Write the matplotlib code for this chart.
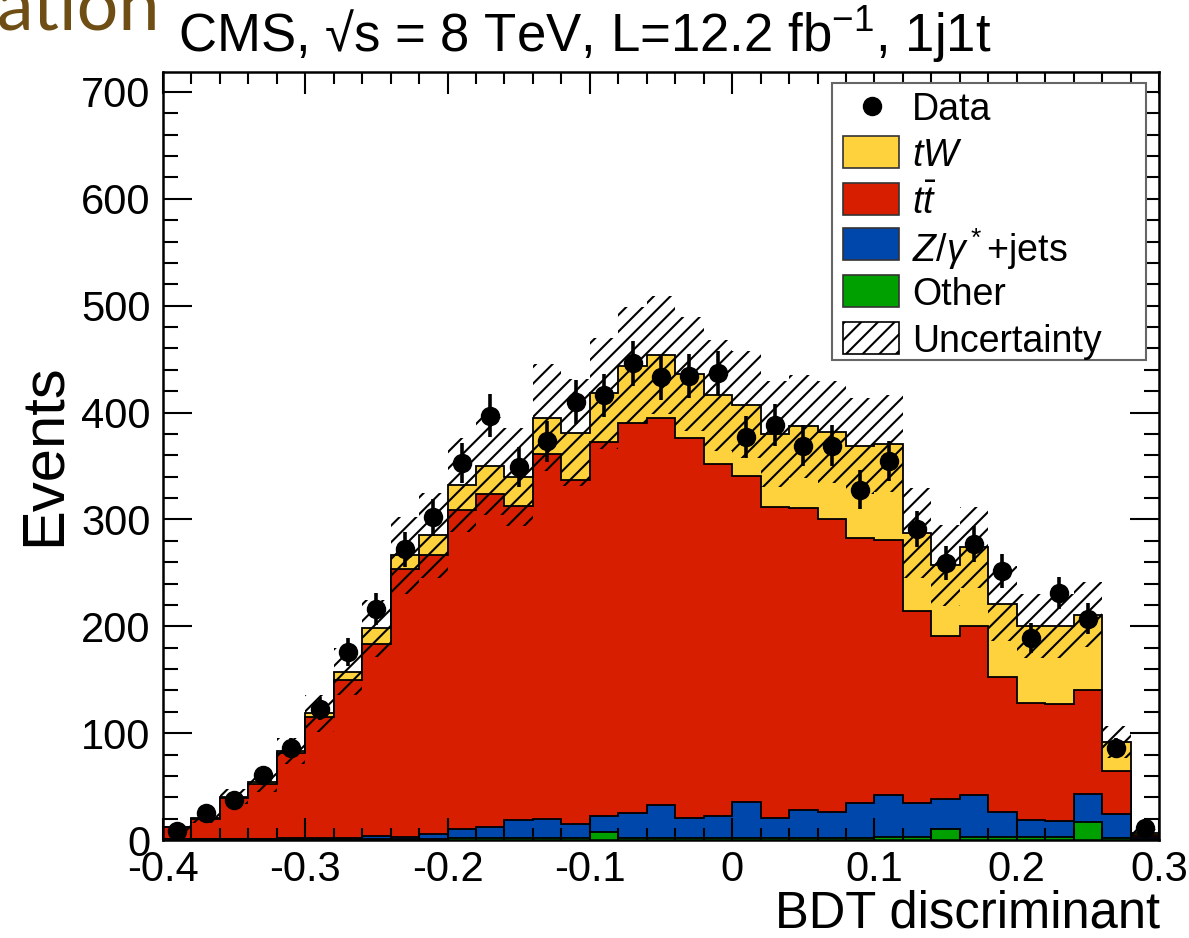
import numpy as np
import matplotlib
matplotlib.use("Agg")
import matplotlib.pyplot as plt
from matplotlib.patches import Rectangle

plt.rcParams['font.family'] = ['Liberation Sans', 'DejaVu Sans']
plt.rcParams['mathtext.fontset'] = 'custom'
plt.rcParams['mathtext.rm'] = 'Liberation Sans'
plt.rcParams['mathtext.it'] = 'Liberation Sans:italic'
plt.rcParams['mathtext.bf'] = 'Liberation Sans:bold'
plt.rcParams['hatch.linewidth'] = 1.5

# ---------------- data (35 bins, -0.4 .. 0.3) ----------------
x_min, x_max, n_bins = -0.4, 0.3, 35

other = [0.5, 0.5, 0.5, 0.5, 0.5, 0.5, 1, 1, 1, 1, 1.5, 1.5, 2, 2, 2, 7.5, 2, 2,
         2, 2, 2, 2, 2, 2, 2, 2.5, 2.5, 10, 2.5, 2.5, 2.5, 2.5, 17, 2, 1]
zjets = [0.5, 0.5, 0.5, 0.5, 1, 1, 1, 2.7, 1.5, 4.6, 8.5, 10.5, 16.7, 17.6, 13, 14.5,
         23.5, 31, 19, 20, 34, 18.3, 26, 24, 33, 39.5, 32, 28, 39.5, 24, 16.2, 15.5,
         26.5, 22, 2]
ttbar = [11, 19, 38, 51, 79.5, 113.5, 148, 179.3, 251.5, 260.9, 298.5, 311.5, 294.3,
         341.4, 322, 350.5, 364.5, 362, 355, 330, 304.5, 291.2, 283, 274, 247.5, 239,
         180, 152.5, 158, 126.5, 109.8, 109, 96.5, 40.5, 2]
tw = [0.5, 1, 1.5, 2, 2, 3.5, 7.5, 15, 12.5, 18.5, 23.5, 26.5, 27, 34, 44, 45.5, 54,
      59, 60, 64, 67, 68.5, 76, 82, 86.5, 90, 73, 66.5, 74, 68, 71.5, 73, 71, 27.5, 2]
uncertainty = [4, 5, 7, 9, 12, 17, 22, 27, 36, 40, 44, 46, 46, 50, 50, 52, 55, 55, 53,
               52, 50, 50, 48, 48, 45, 45, 42, 38, 38, 35, 30, 30, 30, 15, 3]
data = [8, 25, 37, 61, 86, 123, 176, 216, 272, 302, 353, 397, 349, 373, 410, 416, 446,
        433, 434, 437, 377, 388, 369, 369, 328, 355, 291, 259, 277, 252, 189, 231, 207,
        86, 11]

labels = ["Data", "$tW$", r"$t\bar{t}$", r"$Z/\gamma^*$+jets", "Other", "Uncertainty"]
col_tw, col_tt, col_z, col_other = "#FDD23C", "#D81E00", "#0047AB", "#00A000"

# ---------------- figure ----------------
W, H = 1189, 938
fig = plt.figure(figsize=(W / 100, H / 100), dpi=100)
L, R, T, B = 163, 1159, 72, 840
ax = fig.add_axes([L / W, 1 - B / H, (R - L) / W, (B - T) / H])

edges = np.linspace(x_min, x_max, n_bins + 1)
centers = 0.5 * (edges[:-1] + edges[1:])

comps = [(np.array(other, float), col_other),
         (np.array(zjets, float), col_z),
         (np.array(ttbar, float), col_tt),
         (np.array(tw, float), col_tw)]
bottom = np.zeros(n_bins)
tops = []
for vals, c in comps:
    top = bottom + vals
    ax.stairs(top, edges, baseline=bottom, fill=True, color=c, zorder=1)
    tops.append(top)
    bottom = top
for top in tops:
    ax.stairs(top, edges, baseline=0, color="black", lw=1.3, zorder=1.2)

total = bottom
unc = np.array(uncertainty, float)
ax.stairs(total + unc, edges, baseline=total - unc, fill=True, facecolor="none",
          edgecolor="black", hatch="//", lw=0, zorder=1.5)

d = np.array(data, float)
ax.errorbar(centers, d, yerr=np.sqrt(d), fmt="o", color="black", ms=13,
            elinewidth=2.6, capsize=0, zorder=4)

ax.set_xlim(x_min, x_max)
ax.set_ylim(0, 718.7)
ax.set_xticks(np.arange(-0.4, 0.31, 0.1))
ax.set_xticklabels(["-0.4", "-0.3", "-0.2", "-0.1", "0", "0.1", "0.2", "0.3"])
ax.set_xticks(np.arange(-0.4, 0.301, 0.02), minor=True)
ax.set_yticks(np.arange(0, 701, 100))
ax.set_yticks(np.arange(0, 701, 20), minor=True)
ax.tick_params(which="both", direction="in", top=True, right=True, width=1.5,
               labelsize=30, colors="black")
ax.tick_params(axis="x", which="major", length=16, pad=7)
ax.tick_params(axis="x", which="minor", length=8.5)
ax.tick_params(axis="y", which="major", length=21, pad=9)
ax.tick_params(axis="y", which="minor", length=10.5)
ax.set_axisbelow(False)
for s in ax.spines.values():
    s.set_linewidth(1.8)
    s.set_zorder(6)

# labels
fig.text(178 / W, 1 - 52 / H, "CMS, √s = 8 TeV, L=12.2 fb$^{-1}$, 1j1t",
         fontsize=38, ha="left", va="baseline")
fig.text(44 / W, 1 - 455 / H, "Events", fontsize=43, rotation=90,
         ha="center", va="center")
fig.text(1160 / W, 1 - 927 / H, "BDT discriminant", fontsize=36.5,
         ha="right", va="baseline")
fig.text(-3 / W, 1 - 30 / H, "ation", fontsize=53, color="#6E4E14",
         family=["Lato", "DejaVu Sans"], ha="left", va="baseline")

# ---------------- legend (manual, ROOT-like) ----------------
def px(xp, yp):
    return ((xp - L) / (R - L), (B - yp) / (B - T))

x0, y0 = px(832, 360)
x1, y1 = px(1146, 83)
ax.add_patch(Rectangle((x0, y0), x1 - x0, y1 - y0, transform=ax.transAxes,
                       facecolor="white", edgecolor="#666666", lw=1.5, zorder=7))
rows = [106, 152, 199, 244.5, 291, 338]
sw_l, sw_r, sw_h = 843, 899, 32
fills = [None, col_tw, col_tt, col_z, col_other, "hatch"]
for lab, yc, f in zip(labels, rows, fills):
    if f is None:
        mx, my = px(871.5, yc)
        ax.plot([mx], [my], "o", color="black", ms=13, transform=ax.transAxes,
                zorder=8, clip_on=False)
    else:
        a, b = px(sw_l, yc + sw_h / 2)
        c, e = px(sw_r, yc - sw_h / 2)
        if f == "hatch":
            ax.add_patch(Rectangle((a, b), c - a, e - b, transform=ax.transAxes,
                                   facecolor="white", edgecolor="black", hatch="//",
                                   lw=1.2, zorder=8))
        else:
            ax.add_patch(Rectangle((a, b), c - a, e - b, transform=ax.transAxes,
                                   facecolor=f, edgecolor="#333333", lw=1.2, zorder=8))
    tx, ty = px(912, yc)
    ax.text(tx, ty, lab, transform=ax.transAxes, fontsize=27, ha="left",
            va="center_baseline", zorder=9)

fig.savefig("out.png", dpi=100)
